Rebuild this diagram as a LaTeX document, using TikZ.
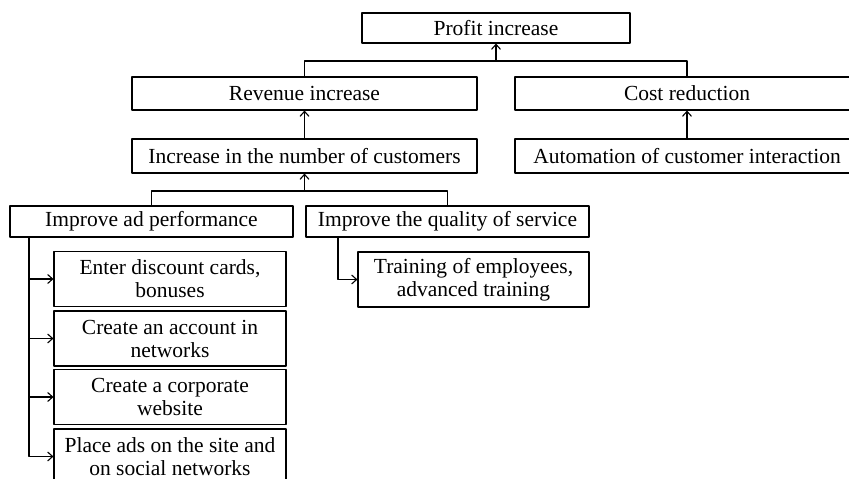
\documentclass[tikz,border=0pt]{standalone}
\usepackage{fontspec}
\setmainfont{Liberation Serif}
\usetikzlibrary{arrows.meta}
\begin{document}
\begin{tikzpicture}[x=1pt,y=-1pt,line join = round,>={Straight Barb[length=5pt,width=9pt]},line width=1.1pt,
	mot/.style={draw,inner sep=0pt,align=center,font=\fontsize{21.5}{23}\selectfont,minimum height=33pt},
	hai/.style={mot,minimum width=232pt,minimum height=55pt}]
	\clip (0,0) rectangle (849,479);
	%Vẽ các ô
	\node[mot,minimum width=268pt,minimum height=30pt] (profit) at (496,28) {Profit increase};
	\node[mot,minimum width=345pt] (revenue) at (304.5,93.5) {Revenue increase};
	\node[mot,minimum width=344pt] (cost) at (687,93.5) {Cost reduction};
	\node[mot,minimum width=345pt,minimum height=34pt] (customers) at (304.5,156) {Increase in the number of customers};
	\node[mot,minimum width=344pt,minimum height=34pt] (automation) at (687,156) {Automation of customer interaction};
	\node[mot,minimum width=283pt,minimum height=31pt] (adperf) at (151.5,221.5) {Improve ad performance};
	\node[mot,minimum width=283pt,minimum height=31pt] (quality) at (447.5,221.5) {Improve the quality of service};
	\node[hai,minimum width=231pt] (training) at (473.5,279.5) {Training of employees,\\advanced training};
	\node[hai] (discount) at (170,279) {Enter discount cards,\\bonuses};
	\node[hai] (account) at (170,338.5) {Create an account in\\networks};
	\node[hai] (website) at (170,397) {Create a corporate\\website};
	\node[hai] (ads) at (170,456.5) {Place ads on the site and\\on social networks};
	%Vẽ các đường nối
	\coordinate (n1) at (496,61);
	\coordinate (n2) at (304.5,191);
	\coordinate (r1) at (29,237);
	\coordinate (r2) at (338,237);
	\draw (revenue.north) |- (n1) -| (cost.north);
	\draw[->] (n1) -- (profit.south);
	\draw[->] (customers.north) -- (revenue.south);
	\draw[->] (automation.north) -- (cost.south);
	\draw (adperf.north) |- (n2) -| (quality.north);
	\draw[->] (n2) -- (customers.south);
	\foreach \o in {discount,account,website,ads} \draw[->] (r1) |- (\o.west);
	\draw[->] (r2) |- (training.west);
\end{tikzpicture}
\end{document}
